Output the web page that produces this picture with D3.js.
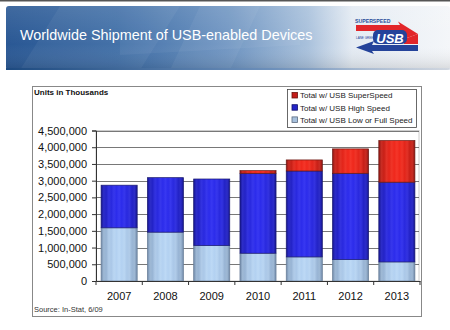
<!DOCTYPE html>
<html><head><meta charset="utf-8">
<script src="https://cdn.jsdelivr.net/npm/d3@7"></script>
<style>html,body{margin:0;padding:0;background:#fff;}svg{display:block;}</style>
</head><body>
<script>
const years = ["2007","2008","2009","2010","2011","2012","2013"];
const lowFull = [1590000, 1460000, 1060000, 830000, 720000, 640000, 570000];
const highSpeed = [1275000, 1630000, 1990000, 2390000, 2570000, 2580000, 2385000];
const superSpeed = [0, 0, 0, 80000, 330000, 730000, 1245000];
const seriesNames = ["Total w/ USB SuperSpeed","Total w/ USB High Speed","Total w/ USB Low or Full Speed"];
const yTicks = [0,500000,1000000,1500000,2000000,2500000,3000000,3500000,4000000,4500000];

const W=450,H=330;
const svg=d3.select("body").append("svg").attr("width",W).attr("height",H);
const defs=svg.append("defs");

const bg=defs.append("linearGradient").attr("id","banner").attr("x1","0").attr("x2","1").attr("y1","0").attr("y2","0");
[[0,"#2a5894"],[0.25,"#3a6aa4"],[0.5,"#6b92c0"],[0.68,"#a9c1dc"],[0.78,"#e4ebf3"],[1,"#f4f6f9"]].forEach(s=>bg.append("stop").attr("offset",s[0]).attr("stop-color",s[1]));
const bgv=defs.append("linearGradient").attr("id","bannerV").attr("x1","0").attr("x2","0").attr("y1","0").attr("y2","1");
[[0,"rgba(255,255,255,0.10)"],[0.6,"rgba(255,255,255,0)"],[1,"rgba(0,0,0,0.12)"]].forEach(s=>bgv.append("stop").attr("offset",s[0]).attr("stop-color",s[1]));

function stripeGrad(id, edge, mid, light){
  const g=defs.append("linearGradient").attr("id",id).attr("x1","0").attr("x2","1").attr("y1","0").attr("y2","0");
  const n=14;
  for(let i=0;i<=n;i++){
    const t=i/n;
    const shade=Math.sin(Math.PI*t);
    let c=d3.interpolateRgb(edge, mid)(Math.pow(shade,0.6));
    if(i%2===1) c=d3.interpolateRgb(c, light)(0.25);
    g.append("stop").attr("offset",t).attr("stop-color",c);
  }
}
stripeGrad("gRed","#8e1410","#f0281c","#ff6050");
stripeGrad("gBlue","#14148e","#2c2cec","#5a5aff");
stripeGrad("gLow","#6f88a8","#b4d2f2","#d8ecff");

svg.append("rect").attr("x",0).attr("y",0).attr("width",W).attr("height",1.5).attr("fill","#555");

svg.append("rect").attr("x",6).attr("y",6).attr("width",W-6).attr("height",64).attr("rx",3).attr("fill","url(#banner)");
svg.append("rect").attr("x",6).attr("y",6).attr("width",W-6).attr("height",64).attr("rx",3).attr("fill","url(#bannerV)");
const streaks=[[[60,6],[180,6],[140,70],[20,70]],[[200,6],[260,6],[230,70],[170,70]],[[120,40],[300,30],[300,45],[120,55]]];
streaks.forEach(p=>svg.append("polygon").attr("points",p.map(q=>q.join(",")).join(" ")).attr("fill","rgba(255,255,255,0.05)"));
const bl=defs.append("linearGradient").attr("id","bline").attr("x1","0").attr("x2","1");
[[0,"#1d4a80"],[0.6,"#6d90bb"],[1,"rgba(200,210,225,0.5)"]].forEach(s=>bl.append("stop").attr("offset",s[0]).attr("stop-color",s[1]));
svg.append("rect").attr("x",6).attr("y",68).attr("width",W-6).attr("height",2).attr("fill","url(#bline)");
svg.append("text").attr("x",20).attr("y",40).attr("fill","#fff").attr("font-family","Liberation Sans, Arial, sans-serif").attr("font-size",14.4).text("Worldwide Shipment of USB-enabled Devices");

const logo=svg.append("g");
logo.append("text").attr("x",355).attr("y",22.5).attr("font-family","Liberation Sans, Arial, sans-serif").attr("font-size",5.2).attr("font-weight","bold").attr("fill","#2a4f9a").text("SUPERSPEED");
logo.append("polygon").attr("points","356,25 400,25 398,21.5 418,34 404,39 404,31 356,31").attr("fill","#e2262a");
logo.append("polygon").attr("points","404,39 418,34 418,44 404,44").attr("fill","#e2262a");
logo.append("polygon").attr("points","372,45 418,45 418,51 372,51 374,54 356,47.5 374,41").attr("fill","#24439a");
logo.append("rect").attr("x",373).attr("y",30).attr("width",34).attr("height",14).attr("rx",5).attr("fill","#24439a");
logo.append("text").attr("x",390).attr("y",42.5).attr("text-anchor","middle").attr("font-family","Liberation Sans, Arial, sans-serif").attr("font-size",13).attr("font-weight","bold").attr("font-style","italic").attr("fill","#fff").text("USB");
logo.append("text").attr("x",356).attr("y",38.5).attr("font-family","Liberation Sans, Arial, sans-serif").attr("font-size",3).attr("fill","#24439a").text("LANE GREEN");

svg.append("rect").attr("x",32.5).attr("y",86.5).attr("width",389).attr("height",230).attr("fill","#fff").attr("stroke","#888").attr("stroke-width",1);

const x=d3.scaleBand().domain(years).range([96,420]).paddingInner(0.22).paddingOuter(0.11);
const y=d3.scaleLinear().domain([0,4500000]).range([281,130.5]);

svg.append("rect").attr("x",96).attr("y",130.5).attr("width",323).attr("height",150.5).attr("fill","none").attr("stroke","#ccc").attr("stroke-width",1);

svg.append("g").selectAll("line").data(yTicks.slice(1)).join("line")
  .attr("x1",96).attr("x2",419).attr("y1",d=>Math.round(y(d))+0.5).attr("y2",d=>Math.round(y(d))+0.5)
  .attr("stroke","#555").attr("stroke-width",0.8);

const stack=years.map((yr,i)=>({yr,segs:[
  {v0:0,v1:lowFull[i],f:"url(#gLow)",s:"#6a7f98"},
  {v0:lowFull[i],v1:lowFull[i]+highSpeed[i],f:"url(#gBlue)",s:"#1a1a70"},
  {v0:lowFull[i]+highSpeed[i],v1:lowFull[i]+highSpeed[i]+superSpeed[i],f:"url(#gRed)",s:"#6a1a14"}
]}));
const bars=svg.append("g");
stack.forEach(d=>{
  d.segs.filter(s=>s.v1>s.v0).forEach(s=>{
    bars.append("rect").attr("x",x(d.yr)).attr("width",x.bandwidth())
      .attr("y",y(s.v1)).attr("height",y(s.v0)-y(s.v1))
      .attr("fill",s.f).attr("stroke",s.s).attr("stroke-width",0.7);
  });
});

const ya=svg.append("g").attr("transform","translate(96,0)").call(d3.axisLeft(y).tickValues(yTicks).tickFormat(d3.format(",")).tickSize(4).tickPadding(5));
ya.select(".domain").attr("stroke","#333");
ya.selectAll(".tick line").attr("stroke","#333");
ya.selectAll("text").attr("font-family","Liberation Sans, Arial, sans-serif").attr("font-size",11).attr("fill","#111");

const xa=svg.append("g").attr("transform","translate(0,281)").call(d3.axisBottom(x).tickSize(0).tickPadding(11));
xa.select(".domain").attr("stroke","#333");
xa.selectAll("text").attr("font-family","Liberation Sans, Arial, sans-serif").attr("font-size",11).attr("fill","#111");
const bounds=[96].concat(years.map(yr=>x(yr)+x.bandwidth()+x.step()*x.paddingInner()/2));
svg.append("g").selectAll("line").data(bounds).join("line")
  .attr("x1",d=>d).attr("x2",d=>d).attr("y1",281).attr("y2",285).attr("stroke","#333");

svg.append("text").attr("x",34).attr("y",95).attr("font-family","Liberation Sans, Arial, sans-serif").attr("font-size",8).attr("font-weight","bold").attr("fill","#111").text("Units in Thousands");
svg.append("text").attr("x",34).attr("y",312).attr("font-family","Liberation Sans, Arial, sans-serif").attr("font-size",7.5).attr("fill","#333").text("Source: In-Stat, 6/09");

const lg=svg.append("g");
lg.append("rect").attr("x",287.5).attr("y",89.5).attr("width",129).attr("height",38).attr("fill","#fff").attr("stroke","#444").attr("stroke-width",0.8);
const swFill=["#c41e1a","#2424c8","#a6c0dc"], swStroke=["#6a1410","#12126a","#5a6a80"];
seriesNames.forEach((n,i)=>{
  const cy=95.5+i*12.2;
  lg.append("rect").attr("x",292).attr("y",cy-3).attr("width",5.5).attr("height",5.5).attr("fill",swFill[i]).attr("stroke",swStroke[i]).attr("stroke-width",0.8);
  lg.append("text").attr("x",300).attr("y",cy+2.8).attr("font-family","Liberation Sans, Arial, sans-serif").attr("font-size",8).attr("fill","#222").text(n);
});
</script>
</body></html>
